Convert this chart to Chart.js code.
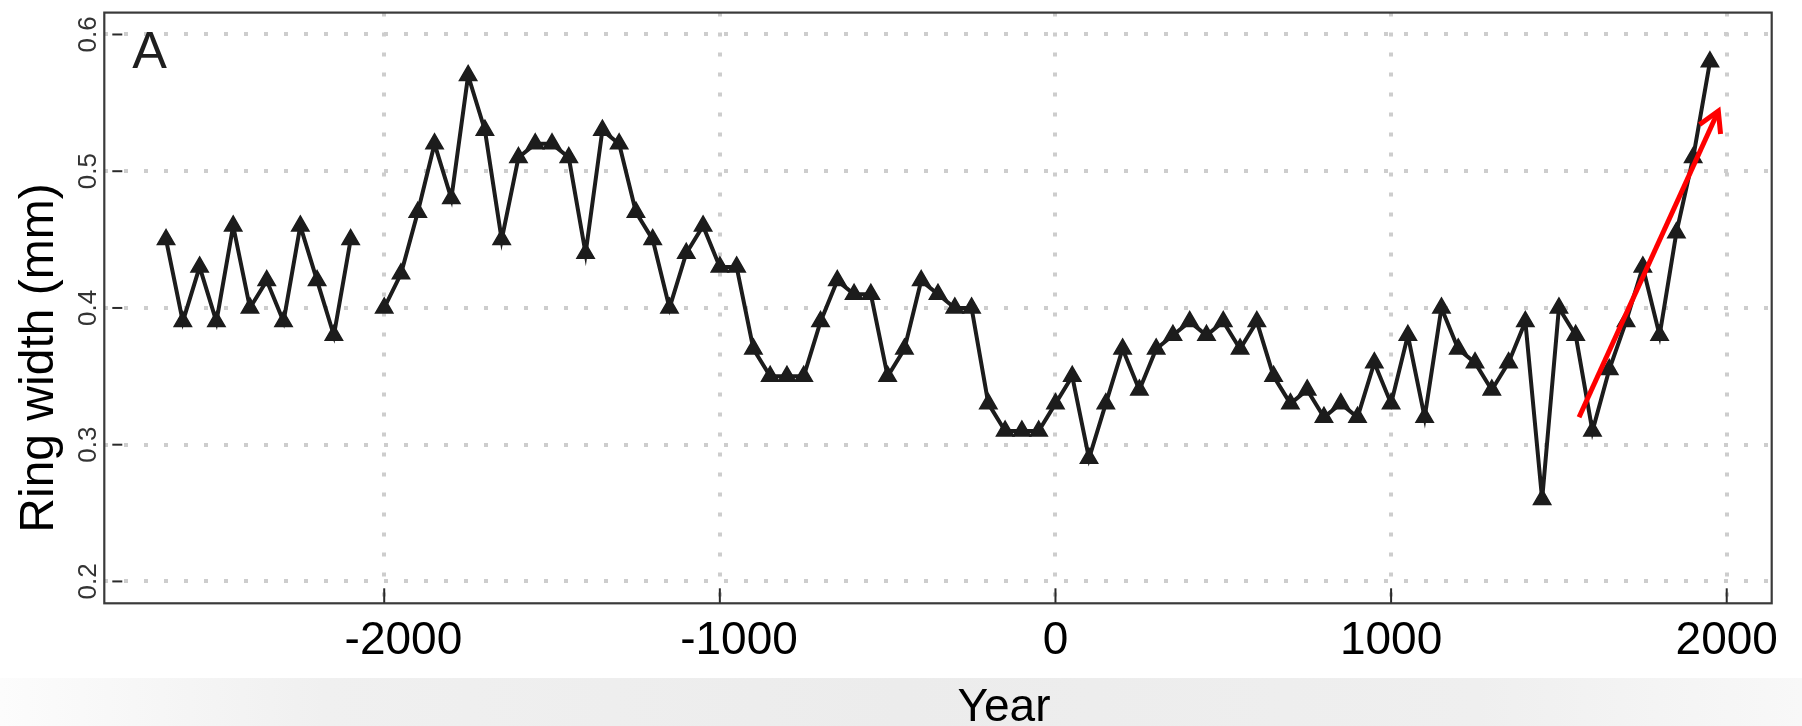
<!DOCTYPE html>
<html>
<head>
<meta charset="utf-8">
<script src="https://cdn.jsdelivr.net/npm/chart.js@4.4.1/dist/chart.umd.min.js"></script>
<style>
  html, body { margin: 0; padding: 0; background: #fff; }
  #quadro { position: relative; width: 1802px; height: 726px; overflow: hidden; background: #fff; }
  #faixa {
    position: absolute; left: 0; top: 678px; width: 1802px; height: 48px;
    background: linear-gradient(to right, #fcfcfc 0%, #f0f0f0 18%, #ececec 50%, #efefef 82%, #f8f8f8 100%);
  }
  canvas { position: absolute; left: 0; top: 0; }
</style>
</head>
<body>
<div id="quadro">
  <div id="faixa"></div>
  <canvas id="graficoAnel" width="1802" height="726"></canvas>
</div>
<script>
// anos (a cada 50) e largura do anel; -2050 fica sem dado (buraco na linha)
const anos = [
  -2650, -2600, -2550, -2500, -2450, -2400, -2350, -2300, -2250, -2200, -2150, -2100,
  -2050,
  -2000, -1950, -1900, -1850, -1800, -1750, -1700, -1650, -1600, -1550, -1500, -1450,
  -1400, -1350, -1300, -1250, -1200, -1150, -1100, -1050, -1000, -950, -900, -850,
  -800, -750, -700, -650, -600, -550, -500, -450, -400, -350, -300, -250,
  -200, -150, -100, -50, 0, 50, 100, 150, 200, 250, 300, 350,
  400, 450, 500, 550, 600, 650, 700, 750, 800, 850, 900, 950,
  1000, 1050, 1100, 1150, 1200, 1250, 1300, 1350, 1400, 1450, 1500, 1550,
  1600, 1650, 1700, 1750, 1800, 1850, 1900, 1950
]
const larguraAnel = [
  0.45, 0.39, 0.43, 0.39, 0.46, 0.40, 0.42, 0.39, 0.46, 0.42, 0.38, 0.45,
  null,
  0.40, 0.425, 0.47, 0.52, 0.48, 0.57, 0.53, 0.45, 0.51, 0.52, 0.52, 0.51,
  0.44, 0.53, 0.52, 0.47, 0.45, 0.40, 0.44, 0.46, 0.43, 0.43, 0.37, 0.35,
  0.35, 0.35, 0.39, 0.42, 0.41, 0.41, 0.35, 0.37, 0.42, 0.41, 0.40, 0.40,
  0.33, 0.31, 0.31, 0.31, 0.33, 0.35, 0.29, 0.33, 0.37, 0.34, 0.37, 0.38,
  0.39, 0.38, 0.39, 0.37, 0.39, 0.35, 0.33, 0.34, 0.32, 0.33, 0.32, 0.36,
  0.33, 0.38, 0.32, 0.40, 0.37, 0.36, 0.34, 0.36, 0.39, 0.26, 0.40, 0.38,
  0.31, 0.355, 0.39, 0.43, 0.38, 0.455, 0.51, 0.58
]

const ticksAno = [-2000, -1000, 0, 1000, 2000]
const ticksLargura = [0.2, 0.3, 0.4, 0.5, 0.6]
const limitesAno = [-2834, 2134]
const limitesLargura = [0.184, 0.616]

// seta vermelha (ano, largura)
const setaInicio = [1560, 0.32]
const setaFim = [1975, 0.544]

const fonte = "'Liberation Sans', Arial, sans-serif"

const pluginMoldura = {
  id: 'moldura',
  afterDatasetsDraw(chart) {
    const { ctx, chartArea: area, scales: { x, y } } = chart
    ctx.save()

    // tracinhos dos ticks, por dentro da moldura
    ctx.strokeStyle = '#2a2a2a'
    ctx.lineWidth = 2
    y.ticks.forEach((t) => {
      const py = y.getPixelForValue(t.value)
      ctx.beginPath()
      ctx.moveTo(area.left + 8, py)
      ctx.lineTo(area.left + 18, py)
      ctx.stroke()
    })
    x.ticks.forEach((t) => {
      const px = x.getPixelForValue(t.value)
      ctx.beginPath()
      ctx.moveTo(px, area.bottom - 15)
      ctx.lineTo(px, area.bottom)
      ctx.stroke()
    })

    // moldura
    ctx.strokeStyle = '#3a3a3a'
    ctx.lineWidth = 2.2
    ctx.strokeRect(area.left, area.top, area.right - area.left, area.bottom - area.top)

    // seta
    const x1 = x.getPixelForValue(setaInicio[0])
    const y1 = y.getPixelForValue(setaInicio[1])
    const x2 = x.getPixelForValue(setaFim[0])
    const y2 = y.getPixelForValue(setaFim[1])
    const ang = Math.atan2(y2 - y1, x2 - x1)
    ctx.strokeStyle = '#ff0000'
    ctx.lineWidth = 5
    ctx.lineCap = 'butt'
    ctx.beginPath()
    ctx.moveTo(x1, y1)
    ctx.lineTo(x2, y2)
    ctx.stroke()
    ctx.beginPath()
    ctx.moveTo(x2 - 23 * Math.cos(ang - Math.PI / 6), y2 - 23 * Math.sin(ang - Math.PI / 6))
    ctx.lineTo(x2, y2)
    ctx.lineTo(x2 - 23 * Math.cos(ang + Math.PI / 6), y2 - 23 * Math.sin(ang + Math.PI / 6))
    ctx.stroke()

    // letra do painel
    ctx.fillStyle = '#1e1e1e'
    ctx.font = '52px ' + fonte
    ctx.textAlign = 'left'
    ctx.textBaseline = 'alphabetic'
    ctx.fillText('A', area.left + 28, area.top + 55)

    // titulos dos eixos
    ctx.fillStyle = '#000'
    ctx.font = '46px ' + fonte
    ctx.textAlign = 'center'
    ctx.fillText('Year', 1004, 721)

    ctx.font = '48px ' + fonte
    ctx.translate(53, 358)
    ctx.rotate(-Math.PI / 2)
    ctx.fillText('Ring width (mm)', 0, 0)

    ctx.restore()
  }
}

const grafico = new Chart(document.getElementById('graficoAnel'), {
  type: 'line',
  data: {
    datasets: [{
      data: anos.map((ano, i) => ({ x: ano, y: larguraAnel[i] })),
      borderColor: '#1c1c1c',
      borderWidth: 4,
      backgroundColor: '#1c1c1c',
      pointStyle: 'triangle',
      pointRadius: 10,
      pointBorderWidth: 1.5,
      pointBackgroundColor: '#1c1c1c',
      pointBorderColor: '#1c1c1c',
      spanGaps: false,
      tension: 0
    }]
  },
  options: {
    responsive: false,
    devicePixelRatio: 1,
    animation: false,
    layout: { padding: { top: 7.3, right: 30.3, left: 0, bottom: 0 } },
    plugins: { legend: { display: false }, tooltip: { enabled: false } },
    scales: {
      x: {
        type: 'linear',
        min: limitesAno[0],
        max: limitesAno[1],
        afterBuildTicks: (s) => { s.ticks = ticksAno.map((v) => ({ value: v })) },
        afterFit: (s) => { s.height = 726 - 603.3 },
        grid: { color: '#cdcdcd', lineWidth: 4, drawTicks: false },
        border: { display: false, dash: [4, 16] },
        ticks: {
          autoSkip: false,
          maxRotation: 0,
          padding: 10,
          color: '#000',
          font: { size: 46, family: fonte },
          // no original os rotulos negativos ficam um pouco a direita do tick
          callback: (v) => (v < 0 ? '   ' : '') + String(v)
        }
      },
      y: {
        min: limitesLargura[0],
        max: limitesLargura[1],
        afterBuildTicks: (s) => { s.ticks = ticksLargura.map((v) => ({ value: v })) },
        afterFit: (s) => { s.width = 104.3 },
        grid: { color: '#cdcdcd', lineWidth: 4, drawTicks: false },
        border: { display: false, dash: [4, 16] },
        ticks: {
          minRotation: 90,
          maxRotation: 90,
          crossAlign: 'center',
          padding: -3,
          color: '#333',
          font: { size: 26, family: fonte },
          callback: (v) => v.toFixed(1)
        }
      }
    }
  },
  plugins: [pluginMoldura]
})
</script>
</body>
</html>
